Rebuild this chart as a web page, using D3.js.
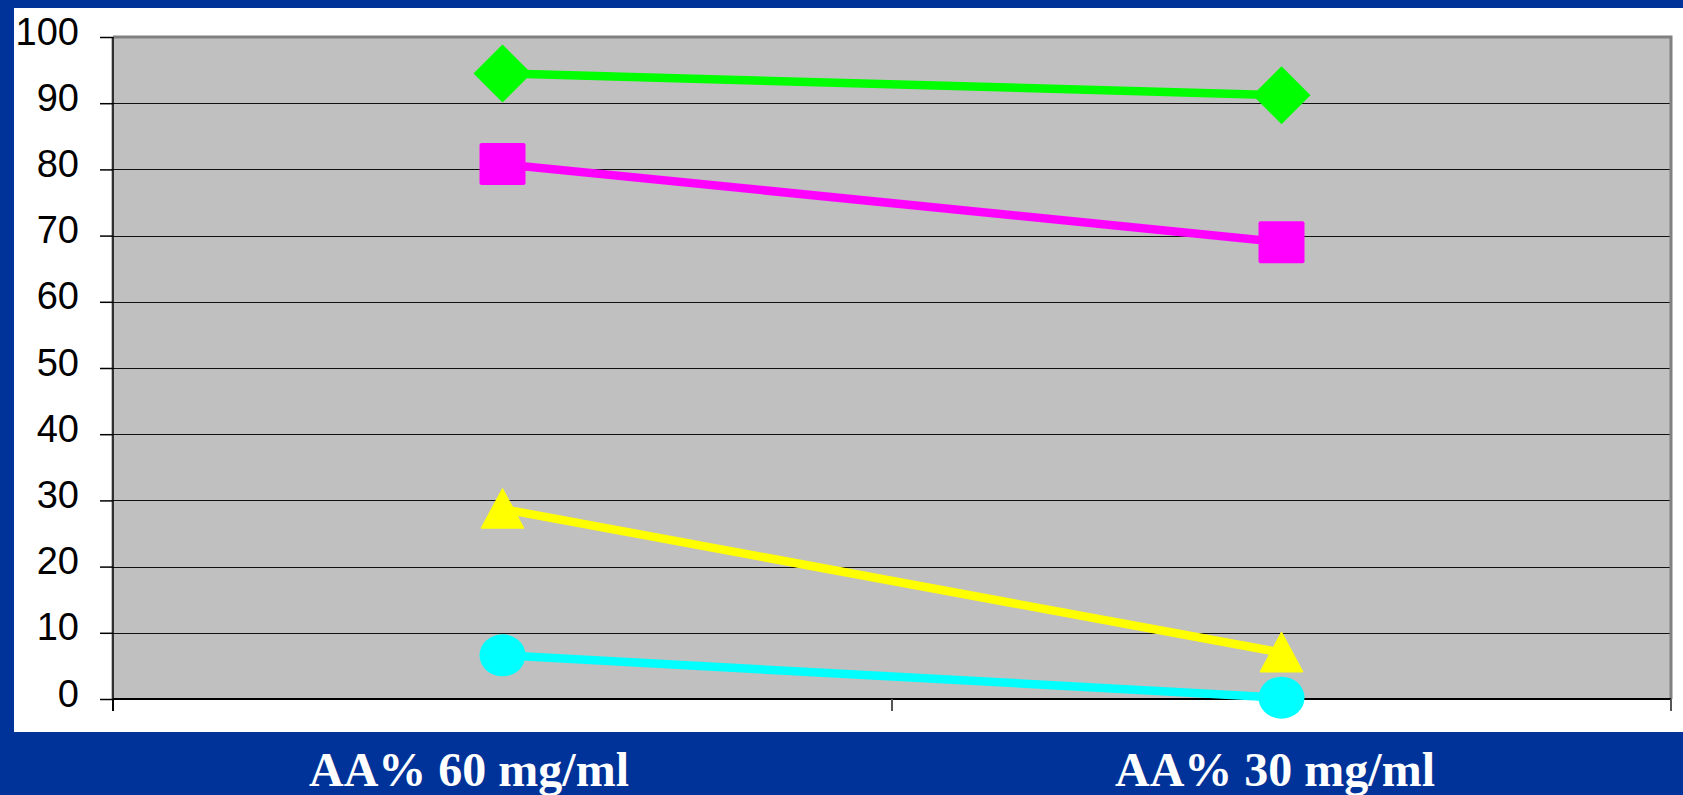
<!DOCTYPE html>
<html>
<head>
<meta charset="utf-8">
<script src="https://cdn.jsdelivr.net/npm/d3@7"></script>
<style>
  html, body { margin: 0; padding: 0; background: #003399; overflow: hidden; }
  svg { display: block; }
</style>
</head>
<body>
<svg id="chart" width="1683" height="795"></svg>
<script>
// Categories along the x axis
const categories = ["AA% 60 mg/ml", "AA% 30 mg/ml"];

// Series values (percent)
const greenValues   = [94.5, 91.2];
const magentaValues = [80.8, 69.0];
const yellowValues  = [28.7, 7.0];
const cyanValues    = [6.6, 0.2];

// Y axis tick values
const yTicks = [0, 10, 20, 30, 40, 50, 60, 70, 80, 90, 100];

const series = [
  { name: "green",   values: greenValues,   color: "#00ff00", marker: "diamond" },
  { name: "magenta", values: magentaValues, color: "#ff00ff", marker: "square" },
  { name: "yellow",  values: yellowValues,  color: "#ffff00", marker: "triangle" },
  { name: "cyan",    values: cyanValues,    color: "#00ffff", marker: "circle" }
];

const svg = d3.select("#chart");

// white panel behind the chart
svg.append("rect")
  .attr("x", 14).attr("y", 8)
  .attr("width", 1683 - 14).attr("height", 732 - 8)
  .attr("fill", "#ffffff");

const plot = { left: 113, right: 1671, top: 37, bottom: 699 };

const x = d3.scaleBand()
  .domain(categories)
  .range([plot.left, plot.right])
  .padding(0);

const y = d3.scaleLinear()
  .domain([0, 100])
  .range([plot.bottom, plot.top]);

// plot area background
svg.append("rect")
  .attr("x", plot.left - 2).attr("y", plot.top)
  .attr("width", plot.right - plot.left + 2).attr("height", plot.bottom - plot.top)
  .attr("fill", "#c0c0c0");

// horizontal gridlines
svg.append("g")
  .selectAll("line")
  .data(yTicks.filter(d => d > 0 && d < 100))
  .join("line")
  .attr("x1", plot.left).attr("x2", plot.right)
  .attr("y1", d => Math.round(y(d)) + 0.5).attr("y2", d => Math.round(y(d)) + 0.5)
  .attr("stroke", "#111")
  .attr("stroke-width", 1.2);

// plot frame (top and right edges)
svg.append("path")
  .attr("d", `M${plot.left},${plot.top}H${plot.right}V${plot.bottom}`)
  .attr("fill", "none")
  .attr("stroke", "#808080")
  .attr("stroke-width", 3);

// Y axis
const yAxis = d3.axisLeft(y)
  .tickValues(yTicks)
  .tickSize(13)
  .tickPadding(21)
  .tickFormat(d3.format("d"));

const yg = svg.append("g")
  .attr("transform", `translate(${plot.left},0)`)
  .call(yAxis);
yg.select(".domain").attr("stroke", "#000").attr("stroke-width", 1.5)
  .attr("d", `M0,${plot.top}V${plot.bottom + 12}`);
yg.selectAll(".tick line").attr("stroke", "#000").attr("stroke-width", 1.5);
yg.selectAll(".tick text")
  .attr("fill", "#000")
  .attr("font-family", "'Liberation Sans', Arial, sans-serif")
  .attr("font-size", 38)
  .attr("dy", "0em")
  .attr("dominant-baseline", "middle")
  .attr("y", -3);

// X axis (ticks at category boundaries, labels drawn separately)
const boundaries = [plot.left, ...categories.map(c => x(c) + x.bandwidth())];
const xg = svg.append("g");
xg.append("line")
  .attr("x1", plot.left).attr("x2", plot.right)
  .attr("y1", plot.bottom).attr("y2", plot.bottom)
  .attr("stroke", "#000").attr("stroke-width", 2.2);
xg.selectAll("line.tick")
  .data(boundaries)
  .join("line")
  .attr("class", "tick")
  .attr("x1", d => d).attr("x2", d => d)
  .attr("y1", plot.bottom).attr("y2", plot.bottom + 12)
  .attr("stroke", d => d === plot.left ? "#000" : "#555")
  .attr("stroke-width", 2);

// series lines
const line = d3.line()
  .x((d, i) => x(categories[i]) + x.bandwidth() / 2)
  .y(d => y(d));

svg.append("g")
  .selectAll("path")
  .data(series)
  .join("path")
  .attr("d", s => line(s.values))
  .attr("fill", "none")
  .attr("stroke", s => s.color)
  .attr("stroke-width", 8.5);

// markers
const markerG = svg.append("g");
series.forEach(s => {
  s.values.forEach((v, i) => {
    const cx = x(categories[i]) + x.bandwidth() / 2;
    const cy = y(v);
    const g = markerG.append("g").attr("transform", `translate(${cx},${cy})`);
    if (s.marker === "diamond") {
      g.append("path").attr("d", "M0,-29L29,0L0,29L-29,0Z").attr("fill", s.color);
    } else if (s.marker === "square") {
      g.append("rect").attr("x", -23).attr("y", -21).attr("width", 46).attr("height", 42)
        .attr("rx", 2).attr("fill", s.color);
    } else if (s.marker === "triangle") {
      g.append("path").attr("d", "M0,-20L21,19L-21,19Z")
        .attr("fill", s.color).attr("stroke", s.color).attr("stroke-width", 1.5)
        .attr("stroke-linejoin", "round");
    } else {
      g.append("ellipse").attr("rx", 23).attr("ry", 21).attr("fill", s.color);
    }
  });
});

// category labels on the blue band
const labelX = [469, 1275];
svg.append("g")
  .selectAll("text")
  .data(categories)
  .join("text")
  .attr("x", (d, i) => labelX[i])
  .attr("y", 786)
  .attr("text-anchor", "middle")
  .attr("fill", "#ffffff")
  .attr("font-family", "'Liberation Serif', 'Times New Roman', serif")
  .attr("font-weight", "bold")
  .attr("font-size", 48)
  .text(d => d);
</script>
</body>
</html>
